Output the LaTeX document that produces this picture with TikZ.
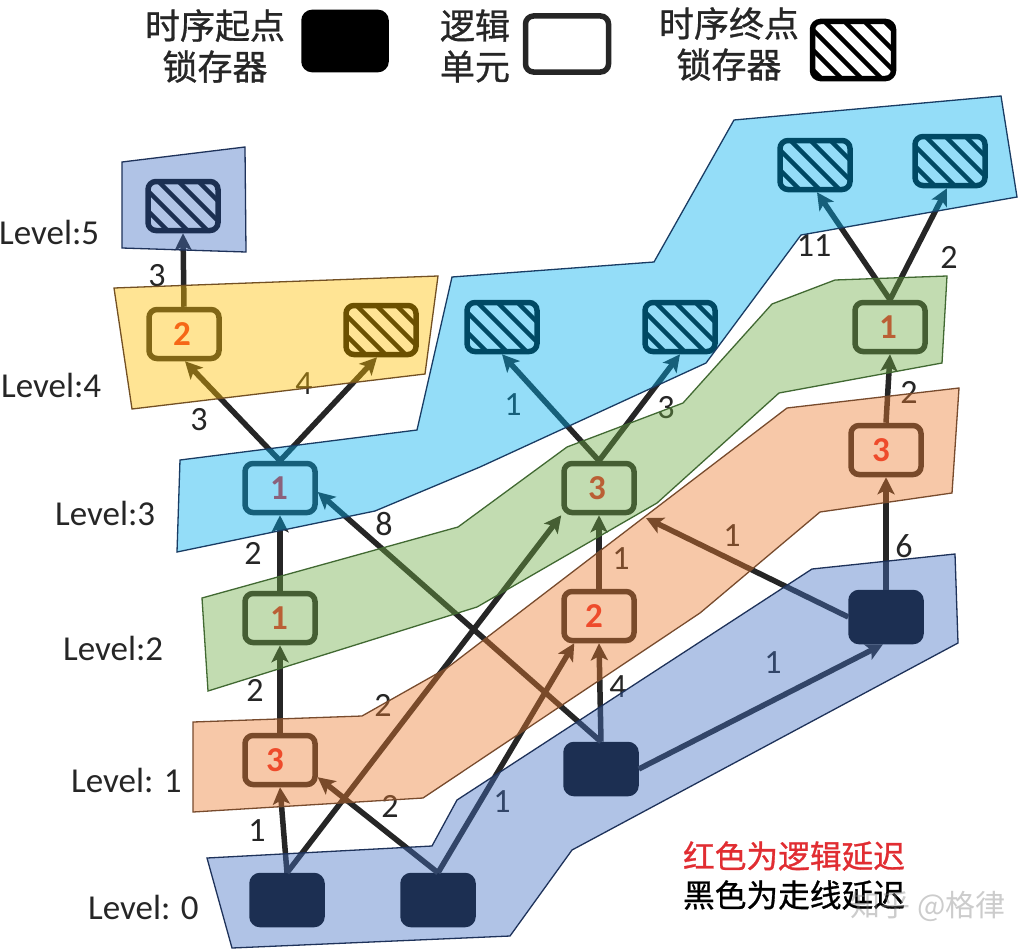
\documentclass[tikz,border=0pt]{standalone}
\usepackage{fontspec}
\setmainfont{Carlito}
\newfontfamily\cjk{Noto Sans CJK SC}[FakeBold=0.9]
\newfontfamily\cjkplain{Noto Sans CJK SC}
\usetikzlibrary{arrows.meta}
\definecolor{ink}{RGB}{38,38,38}
\definecolor{redtxt}{RGB}{240,40,40}
\definecolor{bandblue}{RGB}{68,114,196}
\definecolor{bandsky}{RGB}{0,176,240}
\definecolor{bandgreen}{RGB}{112,173,71}
\definecolor{bandpeach}{RGB}{237,125,49}
\definecolor{bandyellow}{RGB}{255,192,0}
\definecolor{edgeblue}{RGB}{30,50,90}
\definecolor{edgesky}{RGB}{25,60,100}
\definecolor{edgegreen}{RGB}{65,105,50}
\definecolor{edgepeach}{RGB}{120,75,45}
\definecolor{edgeyellow}{RGB}{115,80,35}
\tikzset{
  cellbase/.style={draw=ink,line width=5.5pt,rounded corners=8pt,inner sep=0pt,
    minimum width=70pt,minimum height=49pt,font=\fontsize{35}{38}\selectfont\bfseries,text=redtxt},
  logiccell/.style={cellbase,fill=white},
  sourcecell/.style={cellbase,draw=black,fill=black},
  sinkcell/.style={cellbase,draw=black,fill=white,path picture={
    \foreach \k in {-100,-80,...,100}{
      \draw[black,line width=4.5pt]
        ([xshift=\k pt-50pt,yshift=50pt]path picture bounding box.center) --
        ([xshift=\k pt+50pt,yshift=-50pt]path picture bounding box.center);}}},
  wire/.style={draw=ink,line width=5.5pt,-{Stealth[length=17pt,width=17pt,inset=4pt]}},
  delay/.style={font=\fontsize{34}{38}\selectfont,text=ink,inner sep=0pt},
  levellabel/.style={font=\fontsize{35}{38}\selectfont,text=ink,inner sep=0pt,anchor=west},
  legendtext/.style={font=\cjk\fontsize{35}{41}\selectfont,text=ink,inner sep=0pt,align=center},
  notetext/.style={font=\cjk\fontsize{31.7}{36}\selectfont,inner sep=0pt},
  band/.style={fill opacity=.42,draw opacity=1,line width=1.3pt},
}
\begin{document}
\begin{tikzpicture}[x=1pt,y=-1pt]
\useasboundingbox (0,0) rectangle (1035,950);
\fill[white] (0,0) rectangle (1035,950);

% legend
\node[legendtext] (lgA) at (215,46) {时序起点\\[0pt]锁存器};
\node[sourcecell,minimum width=82pt,minimum height=57pt] (lgB) at (345,41) {};
\node[legendtext] (lgC) at (475,46) {逻辑\\[0pt]单元};
\node[logiccell,minimum width=83pt,minimum height=56pt] (lgD) at (567,44) {};
\node[legendtext] (lgE) at (729,44) {时序终点\\[0pt]锁存器};
\node[sinkcell,minimum width=81pt,minimum height=57pt] (lgF) at (853,50) {};

% level labels
\node[levellabel] (lv5) at (-1,232) {Level:5};
\node[levellabel] (lv4) at (1,385) {Level:4};
\node[levellabel] (lv3) at (55,513) {Level:3};
\node[levellabel] (lv2) at (63,648) {Level:2};
\node[levellabel] (lv1) at (71,780) {Level: 1};
\node[levellabel] (lv0) at (88,907) {Level: 0};

% wire delays
\node[delay] (d01) at (157,276) {3};
\node[delay] (d02) at (199,420) {3};
\node[delay] (d03) at (304,384) {4};
\node[delay] (d04) at (253,553) {2};
\node[delay] (d05) at (384,524) {8};
\node[delay] (d06) at (255,690) {2};
\node[delay] (d07) at (257,831) {1};
\node[delay] (d08) at (383,705) {2};
\node[delay] (d09) at (390,806) {2};
\node[delay] (d10) at (502,802) {1};
\node[delay] (d11) at (618,687) {4};
\node[delay] (d12) at (621,559) {1};
\node[delay] (d13) at (732,536) {1};
\node[delay] (d14) at (773,663) {1};
\node[delay] (d15) at (904,546) {6};
\node[delay] (d16) at (909,392) {2};
\node[delay] (d17) at (666,408) {3};
\node[delay] (d18) at (513,405) {1};
\node[delay] (d19) at (814,246) {11};
\node[delay] (d20) at (949,257) {2};

% cells
\node[sinkcell] (k5) at (183,206) {};
\node[logiccell] (a4) at (184,334) {\kern-4pt 2};
\node[sinkcell] (k4) at (381,330) {};
\node[logiccell] (a3) at (280,488) {\kern-2pt 1};
\node[logiccell] (a2) at (280,618) {\kern-2pt 1};
\node[logiccell] (a1) at (280,760) {\kern-10pt 3};
\node[sourcecell] (s1) at (287,900) {};
\node[sourcecell] (s2) at (438,900) {};
\node[sourcecell] (s3) at (601,769) {};
\node[sourcecell] (s4) at (886,617) {};
\node[logiccell] (b1) at (599,616) {\kern-10pt 2};
\node[logiccell] (b2) at (599,488) {\kern-4pt 3};
\node[sinkcell] (k1) at (502,327) {};
\node[sinkcell] (k2) at (680,327) {};
\node[logiccell] (c1) at (886,450) {\kern-10pt 3};
\node[logiccell] (c2) at (890,327) {\kern-4pt 1};
\node[sinkcell] (k3) at (815,165) {};
\node[sinkcell] (k6) at (950,161) {};
\coordinate (freetip) at (646,518);

% connectors
\draw[wire] (a4.north) -- (k5.south);
\draw[wire] (a3.north) -- ([xshift=1pt]a4.south);
\draw[wire] (a3.north) -- ([xshift=-4pt]k4.south);
\draw[wire] (a2.north) -- (a3.south);
\draw[wire] (a1.north) -- (a2.south);
\draw[wire] (s1.north) -- (a1.south);
\draw[wire] (s1.north) -- (b2.south west);
\draw[wire] (s2.north) -- ([yshift=10pt]a1.south east);
\draw[wire] (s2.north) -- ([xshift=13pt]b1.south west);
\draw[wire] (s3.north) -- (b1.south);
\draw[wire] (s3.north) -- ([yshift=-4pt]a3.east);
\draw[wire] (s3.east) -- ([xshift=-3pt]s4.south);
\draw[wire] (s4.west) -- (freetip);
\draw[wire] (s4.north) -- (c1.south);
\draw[wire] (b1.north) -- (b2.south);
\draw[wire] (b2.north) -- (k1.south);
\draw[wire] (b2.north) -- (k2.south);
\draw[wire] (c1.north) -- (c2.south);
\draw[wire] (c2.north) -- ([xshift=2pt]k3.south);
\draw[wire] (c2.north) -- ([xshift=-3pt]k6.south);

% notes
\node[notetext,text=redtxt] (noteA) at (794,856) {\textcolor[RGB]{225,45,50}{红色为逻辑延迟}};
\node[notetext,text=black] (noteB) at (794,895) {黑色为走线延迟};

% translucent level bands over everything drawn above
\path[band,fill=bandblue,draw=edgeblue] (122,162)--(245,147)--(246,252)--(122,248)--cycle;
\path[band,fill=bandyellow,draw=edgeyellow] (114,288)--(438,276)--(425,374)--(132,409)--cycle;
\path[band,fill=bandsky,draw=edgesky] (180,460)--(417,430)--(452,277)--(654,262)--(734,120)--(1001,96)--(1017,197)--(801,235)--(706,363)--(480,467)--(375,511)--(177,552)--cycle;
\path[band,fill=bandgreen,draw=edgegreen] (202,598)--(458,527)--(567,447)--(683,403)--(772,304)--(835,280)--(947,276)--(942,363)--(779,393)--(657,503)--(477,607)--(208,691)--cycle;
\path[band,fill=bandpeach,draw=edgepeach] (193,722)--(362,716)--(447,668)--(643,518)--(787,408)--(959,388)--(952,493)--(820,512)--(700,613)--(423,798)--(193,812)--cycle;
\path[band,fill=bandblue,draw=edgeblue] (207,858)--(432,846)--(457,800)--(812,569)--(955,554)--(958,643)--(572,850)--(510,936)--(232,948)--cycle;

% watermark
\node[font=\cjkplain\fontsize{30}{34}\selectfont,text=gray,text opacity=.4,inner sep=0pt] (wm) at (928,906) {知乎 @格律};
\end{tikzpicture}
\end{document}
